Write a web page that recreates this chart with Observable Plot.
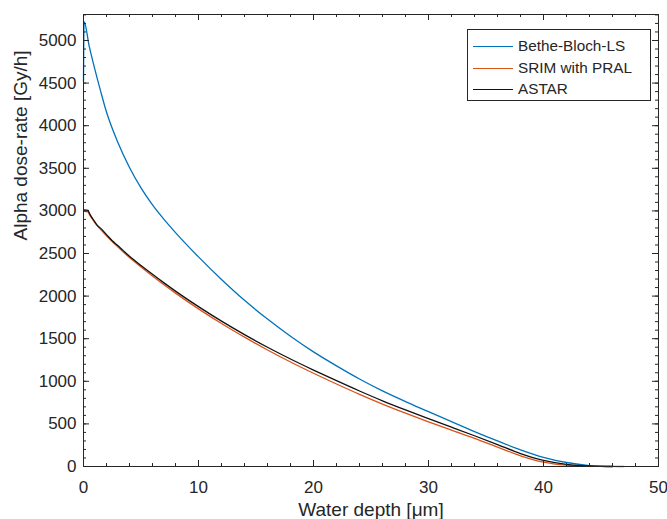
<!DOCTYPE html>
<html>
<head>
<meta charset="utf-8">
<script src="https://cdn.jsdelivr.net/npm/d3@7"></script>
<script src="https://cdn.jsdelivr.net/npm/@observablehq/plot@0.6"></script>
<style>
  html, body { margin: 0; padding: 0; background: #fff; }
  #wrap { position: relative; width: 667px; height: 519px; font-family: "Liberation Sans", Arial, Helvetica, sans-serif; }
  #legend { position: absolute; left: 467px; top: 29px; width: 182px; height: 70px; border: 1px solid #262626; background: #fff; box-sizing: content-box; }
  .item { position: absolute; left: 0; height: 20px; width: 182px; }
  .sw { position: absolute; left: 5px; width: 40px; top: 10px; height: 0; border-top: 1.3px solid; }
  .lb { position: absolute; left: 50px; top: 0; line-height: 20px; font-size: 15.3px; color: #262626; white-space: nowrap; }
</style>
</head>
<body>
<div id="wrap"><div id="chart"></div><div id="legend"></div></div>
<script>
// ---- data ----
const seriesNames = ["Bethe-Bloch-LS", "SRIM with PRAL", "ASTAR"];
const seriesColors = ["#0072BD", "#D95319", "#111111"];

const depthBB = [0, 0.05, 0.5, 1, 1.5, 2, 3, 4, 5, 6, 7, 8, 10, 12, 14, 16, 18, 20, 22, 24, 26, 28, 30, 32, 34, 36, 38, 40, 42, 44, 45, 46];
const doseBB  = [4520, 5220, 4930, 4655, 4400, 4160, 3800, 3510, 3270, 3070, 2900, 2745, 2460, 2195, 1950, 1730, 1528, 1345, 1181, 1027, 887, 762, 644, 526, 410, 300, 196, 108, 47, 11, 3, 0];

const depthSRIM = [0.05, 0.4, 0.5, 0.9, 1.5, 2, 3, 4, 5, 6, 7, 8, 10, 12, 14, 16, 18, 20, 22, 24, 26, 28, 30, 32, 34, 36, 38, 40, 42, 44, 46, 47];
const doseSRIM  = [2995, 2990, 2962, 2878, 2780, 2708, 2575, 2452, 2342, 2236, 2133, 2035, 1850, 1678, 1518, 1367, 1226, 1094, 968, 847, 733, 626, 524, 426, 330, 228, 126, 52, 16, 3, 0.5, 0];

const depthASTAR = [0.05, 0.4, 0.5, 0.9, 1.2, 1.5, 2, 2.5, 3, 3.5, 4, 5, 6, 7, 8, 10, 12, 14, 16, 18, 20, 22, 24, 26, 28, 30, 32, 34, 36, 38, 40, 42, 44, 45, 46];
const doseASTAR  = [3012, 3005, 2975, 2890, 2830, 2795, 2722, 2650, 2590, 2528, 2468, 2360, 2256, 2155, 2058, 1876, 1706, 1548, 1400, 1262, 1132, 1007, 886, 771, 664, 562, 462, 361, 258, 152, 72, 26, 6, 1.5, 0];

const xMajor = [0, 10, 20, 30, 40, 50];
const xMinor = d3.range(0, 50.001, 2);
const yMajor = [0, 500, 1000, 1500, 2000, 2500, 3000, 3500, 4000, 4500, 5000];
const yMinor = d3.range(0, 5301, 100);
const xLabel = "Water depth [μm]";
const yLabel = "Alpha dose-rate [Gy/h]";

// ---- build table ----
const rows = [];
[[depthBB, doseBB], [depthSRIM, doseSRIM], [depthASTAR, doseASTAR]].forEach(([xs, ys], i) => {
  xs.forEach((d, j) => rows.push({series: seriesNames[i], depth: d, dose: ys[j]}));
});

const W = 667, H = 519, mL = 83, mR = 9, mT = 14, mB = 53;
const fw = W - mL - mR, fh = H - mT - mB;
const xDom = [0, 50], yDom = [0, 5305];
const ink = "#262626";
const font = '"Liberation Sans", Arial, Helvetica, sans-serif';

// inward tick marks: length given in pixels, converted to scale units
const px2y = (p) => p * (yDom[1] - yDom[0]) / fh;
const px2x = (p) => p * (xDom[1] - xDom[0]) / fw;
const tickMarks = (len, vals, isX) => isX
  ? [
      Plot.ruleX(vals, {x: d => d, y1: yDom[0], y2: yDom[0] + px2y(len), stroke: ink}),
      Plot.ruleX(vals, {x: d => d, y1: yDom[1] - px2y(len), y2: yDom[1], stroke: ink})
    ]
  : [
      Plot.ruleY(vals, {y: d => d, x1: xDom[0], x2: xDom[0] + px2x(len), stroke: ink}),
      Plot.ruleY(vals, {y: d => d, x1: xDom[1] - px2x(len), x2: xDom[1], stroke: ink})
    ];

const chart = Plot.plot({
  width: W, height: H,
  marginLeft: mL, marginRight: mR, marginTop: mT, marginBottom: mB,
  style: {fontFamily: font, fontSize: "17px", color: ink, background: "white"},
  x: {domain: xDom},
  y: {domain: yDom},
  color: {domain: seriesNames, range: seriesColors},
  marks: [
    Plot.line(rows, {x: "depth", y: "dose", z: "series", stroke: "series", strokeWidth: 1.3, curve: "monotone-x"}),
    ...tickMarks(3, xMinor, true),
    ...tickMarks(6, xMajor, true),
    ...tickMarks(3, yMinor, false),
    ...tickMarks(6, yMajor, false),
    Plot.frame({stroke: ink, strokeWidth: 1}),
    Plot.axisX({ticks: xMajor, tickSize: 0, tickPadding: 14, label: null, fontSize: 17, fill: ink, tickFormat: d => String(d)}),
    Plot.axisY({ticks: yMajor, tickSize: 0, tickPadding: 7, label: null, fontSize: 17, fill: ink, tickFormat: d => String(d)}),
    Plot.text([xLabel], {text: d => d, frameAnchor: "bottom", dy: 49, lineAnchor: "bottom", fontSize: 19, fill: ink}),
    Plot.text([yLabel], {text: d => d, frameAnchor: "left", dx: -70, rotate: -90, lineAnchor: "top", fontSize: 19, fill: ink})
  ]
});
document.getElementById("chart").appendChild(chart);

// ---- legend ----
const lg = document.getElementById("legend");
seriesNames.forEach((name, i) => {
  const it = document.createElement("div");
  it.className = "item";
  it.style.top = (6 + i * 21.7) + "px";
  const sw = document.createElement("div");
  sw.className = "sw";
  sw.style.borderTopColor = seriesColors[i];
  const lb = document.createElement("div");
  lb.className = "lb";
  lb.textContent = name;
  it.appendChild(sw); it.appendChild(lb);
  lg.appendChild(it);
});
</script>
</body>
</html>
